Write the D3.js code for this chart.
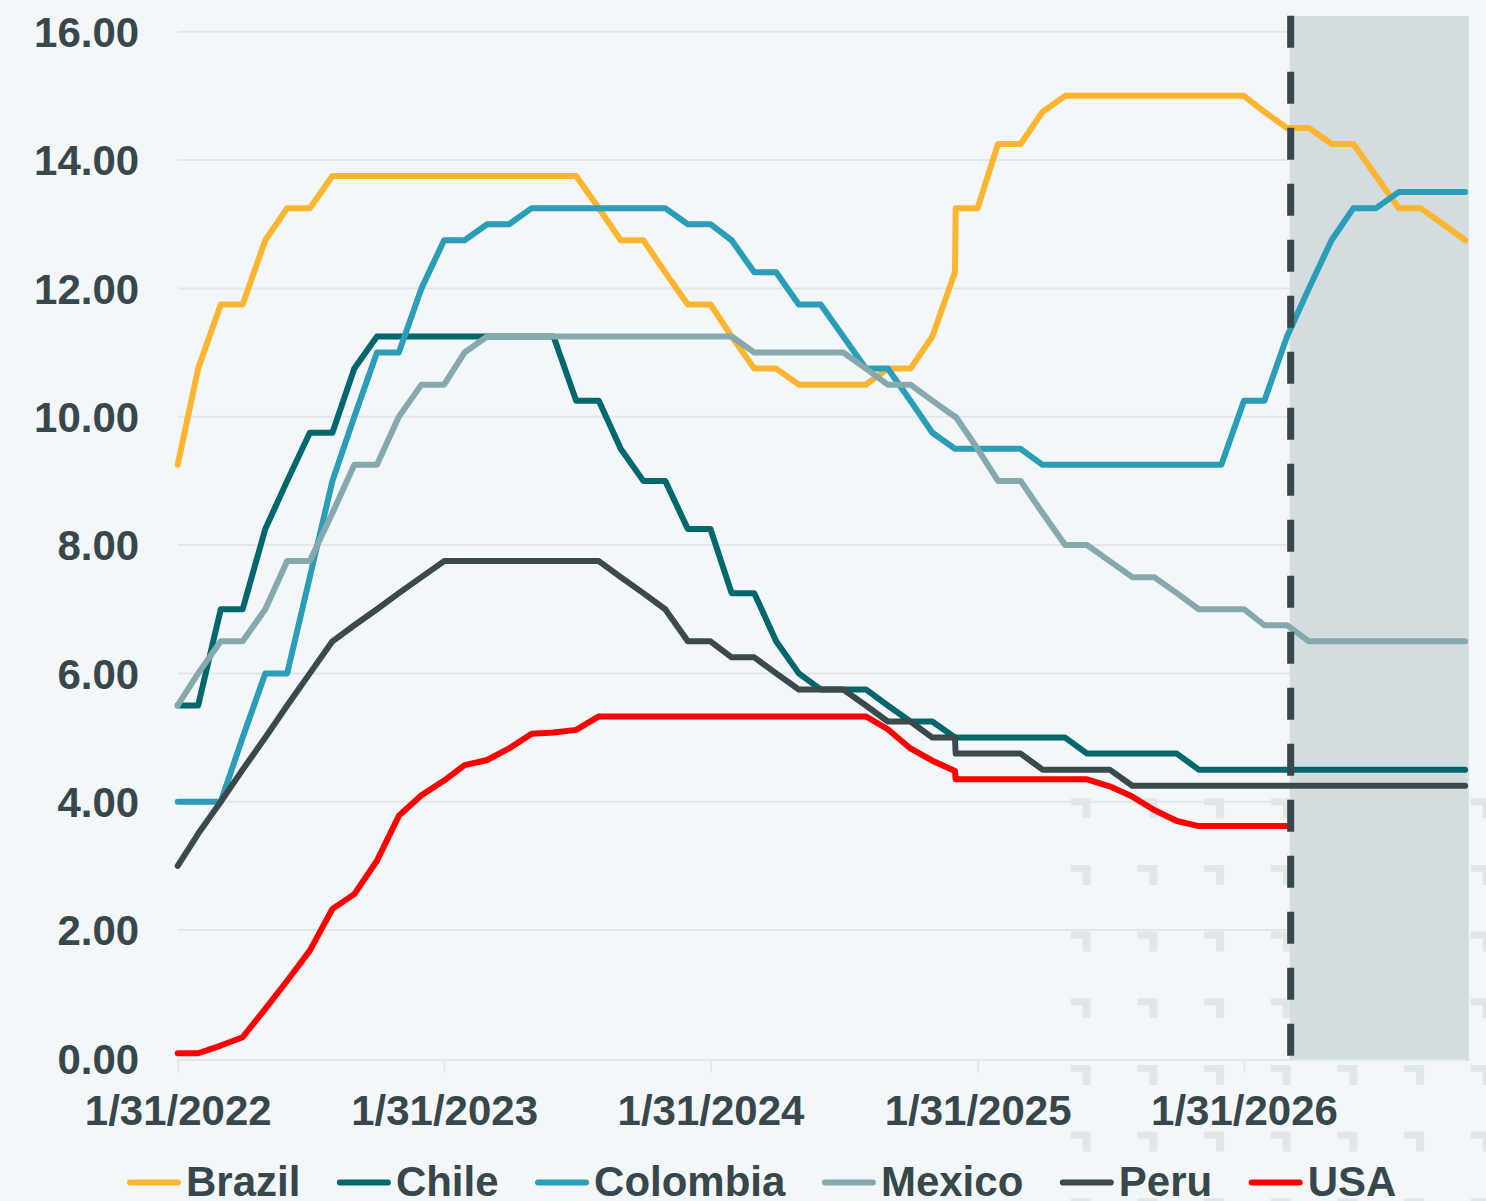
<!DOCTYPE html>
<html>
<head>
<meta charset="utf-8">
<script src="https://cdn.jsdelivr.net/npm/d3@7"></script>
<style>
  body { margin: 0; background: #f3f7fa; }
  svg { display: block; font-family: "Liberation Sans", Arial, sans-serif; }
</style>
</head>
<body>
<div id="chart"></div>
<script>
const WIDTH = 1486, HEIGHT = 1201;

// month-end observations (one extra point at the start of 2025)
const dates = [
  "2022-01-31", "2022-02-28", "2022-03-31", "2022-04-30", "2022-05-31", "2022-06-30",
  "2022-07-31", "2022-08-31", "2022-09-30", "2022-10-31", "2022-11-30", "2022-12-31",
  "2023-01-31", "2023-02-28", "2023-03-31", "2023-04-30", "2023-05-31", "2023-06-30",
  "2023-07-31", "2023-08-31", "2023-09-30", "2023-10-31", "2023-11-30", "2023-12-31",
  "2024-01-31", "2024-02-29", "2024-03-31", "2024-04-30", "2024-05-31", "2024-06-30",
  "2024-07-31", "2024-08-31", "2024-09-30", "2024-10-31", "2024-11-30", "2024-12-31",
  "2025-01-01",
  "2025-01-31", "2025-02-28", "2025-03-31", "2025-04-30", "2025-05-31", "2025-06-30",
  "2025-07-31", "2025-08-31", "2025-09-30", "2025-10-31", "2025-11-30", "2025-12-31",
  "2026-01-31", "2026-02-28", "2026-03-31", "2026-04-30", "2026-05-31", "2026-06-30",
  "2026-07-31", "2026-08-31", "2026-09-30", "2026-10-31", "2026-11-30"
];

const brazil = [
  9.25, 10.75, 11.75, 11.75, 12.75, 13.25, 13.25, 13.75, 13.75, 13.75, 13.75, 13.75,
  13.75, 13.75, 13.75, 13.75, 13.75, 13.75, 13.75, 13.25, 12.75, 12.75, 12.25, 11.75,
  11.75, 11.25, 10.75, 10.75, 10.5, 10.5, 10.5, 10.5, 10.75, 10.75, 11.25, 12.25,
  13.25,
  13.25, 14.25, 14.25, 14.75, 15.0, 15.0, 15.0, 15.0, 15.0, 15.0, 15.0, 15.0,
  15.0, 14.75, 14.5, 14.5, 14.25, 14.25, 13.75, 13.25, 13.25, 13.0, 12.75
];
const chile = [
  5.5, 5.5, 7.0, 7.0, 8.25, 9.0, 9.75, 9.75, 10.75, 11.25, 11.25, 11.25,
  11.25, 11.25, 11.25, 11.25, 11.25, 11.25, 10.25, 10.25, 9.5, 9.0, 9.0, 8.25,
  8.25, 7.25, 7.25, 6.5, 6.0, 5.75, 5.75, 5.75, 5.5, 5.25, 5.25, 5.0,
  5.0,
  5.0, 5.0, 5.0, 5.0, 5.0, 4.75, 4.75, 4.75, 4.75, 4.75, 4.5, 4.5,
  4.5, 4.5, 4.5, 4.5, 4.5, 4.5, 4.5, 4.5, 4.5, 4.5, 4.5
];
const colombia = [
  4.0, 4.0, 4.0, 5.0, 6.0, 6.0, 7.5, 9.0, 10.0, 11.0, 11.0, 12.0,
  12.75, 12.75, 13.0, 13.0, 13.25, 13.25, 13.25, 13.25, 13.25, 13.25, 13.25, 13.0,
  13.0, 12.75, 12.25, 12.25, 11.75, 11.75, 11.25, 10.75, 10.75, 10.25, 9.75, 9.5,
  9.5,
  9.5, 9.5, 9.5, 9.25, 9.25, 9.25, 9.25, 9.25, 9.25, 9.25, 9.25, 9.25,
  10.25, 10.25, 11.25, 12.0, 12.75, 13.25, 13.25, 13.5, 13.5, 13.5, 13.5
];
const mexico = [
  5.5, 6.0, 6.5, 6.5, 7.0, 7.75, 7.75, 8.5, 9.25, 9.25, 10.0, 10.5,
  10.5, 11.0, 11.25, 11.25, 11.25, 11.25, 11.25, 11.25, 11.25, 11.25, 11.25, 11.25,
  11.25, 11.25, 11.0, 11.0, 11.0, 11.0, 11.0, 10.75, 10.5, 10.5, 10.25, 10.0,
  10.0,
  9.5, 9.0, 9.0, 8.5, 8.0, 8.0, 7.75, 7.5, 7.5, 7.25, 7.0, 7.0,
  7.0, 6.75, 6.75, 6.5, 6.5, 6.5, 6.5, 6.5, 6.5, 6.5, 6.5
];
const peru = [
  3.0, 3.5, 4.0, 4.5, 5.0, 5.5, 6.0, 6.5, 6.75, 7.0, 7.25, 7.5,
  7.75, 7.75, 7.75, 7.75, 7.75, 7.75, 7.75, 7.75, 7.5, 7.25, 7.0, 6.5,
  6.5, 6.25, 6.25, 6.0, 5.75, 5.75, 5.75, 5.5, 5.25, 5.25, 5.0, 5.0,
  4.75,
  4.75, 4.75, 4.75, 4.5, 4.5, 4.5, 4.5, 4.25, 4.25, 4.25, 4.25, 4.25,
  4.25, 4.25, 4.25, 4.25, 4.25, 4.25, 4.25, 4.25, 4.25, 4.25, 4.25
];
const usa = [
  0.08, 0.08, 0.20, 0.33, 0.77, 1.21, 1.68, 2.33, 2.56, 3.08, 3.78, 4.10,
  4.33, 4.57, 4.65, 4.83, 5.06, 5.08, 5.12, 5.33, 5.33, 5.33, 5.33, 5.33,
  5.33, 5.33, 5.33, 5.33, 5.33, 5.33, 5.33, 5.33, 5.13, 4.83, 4.64, 4.48,
  4.35,
  4.35, 4.35, 4.35, 4.35, 4.35, 4.35, 4.24, 4.08, 3.87, 3.70, 3.62, 3.62,
  3.62, 3.62, 3.62
];

const countries = ["Brazil", "Chile", "Colombia", "Mexico", "Peru", "USA"];
const seriesValues = [brazil, chile, colombia, mexico, peru, usa];
const colors = ["#fdb52f", "#00686c", "#2a9db9", "#86a8af", "#39494c", "#ff0000"];

const yTicks = [0, 2, 4, 6, 8, 10, 12, 14, 16];
const xTicks = ["2022-01-31", "2023-01-31", "2024-01-31", "2025-01-31", "2026-01-31"];
const forecastStart = "2026-04-05";
const forecastEnd = "2026-12-05";

const parseDate = d3.timeParse("%Y-%m-%d");
const fmtDate = d3.timeFormat("%-m/%-d/%Y");
const fmtVal = d3.format(".2f");

const textColor = "#37474b";
const gridColor = "#e1e7ea";
const fontSize = "42px";

let svg = d3.select("#chart")
    .append("svg")
    .attr("width", WIDTH)
    .attr("height", HEIGHT);

svg.append("rect")
    .attr("width", WIDTH)
    .attr("height", HEIGHT)
    .attr("fill", "#f3f7fa");

let x = d3.scaleTime()
    .domain([parseDate("2022-01-31"), parseDate("2026-11-30")])
    .range([177.7, 1465.1]);

let y = d3.scaleLinear()
    .domain([0, 16])
    .range([1058.4, 31.7]);

// faint tiled mark pattern in the lower right of the source image
let defs = svg.append("defs");
let pat = defs.append("pattern")
    .attr("id", "marks")
    .attr("patternUnits", "userSpaceOnUse")
    .attr("x", 1070.7)
    .attr("y", 798.3)
    .attr("width", 66.67)
    .attr("height", 66.67);
pat.append("path")
    .attr("d", "M0,0H20V20H12V7H0Z")
    .attr("fill", "#dfe7e9");
svg.append("rect")
    .attr("x", 1065)
    .attr("y", 795)
    .attr("width", WIDTH - 1065)
    .attr("height", HEIGHT - 795)
    .attr("fill", "url(#marks)");

// gridlines
svg.append("g")
    .selectAll("line")
    .data(yTicks.filter(d => d > 0))
    .enter().append("line")
    .attr("x1", x.range()[0])
    .attr("x2", x.range()[1] + 1.5)
    .attr("y1", d => y(d))
    .attr("y2", d => y(d))
    .attr("stroke", gridColor)
    .attr("stroke-width", 2);

// forecast shading
svg.append("rect")
    .attr("x", x(parseDate(forecastStart)) - 1)
    .attr("y", 16)
    .attr("width", x(parseDate(forecastEnd)) - x(parseDate(forecastStart)) + 1)
    .attr("height", y(0) + 2.5 - 16)
    .attr("fill", "#d3dcde");

// x axis
let xAxis = svg.append("g")
    .attr("transform", `translate(0,${y(0) + 1})`)
    .call(d3.axisBottom(x)
        .tickValues(xTicks.map(parseDate))
        .tickFormat(fmtDate)
        .tickSizeInner(13)
        .tickSizeOuter(0)
        .tickPadding(23));
xAxis.select(".domain").attr("stroke", gridColor).attr("stroke-width", 2);
xAxis.selectAll(".tick line").attr("stroke", gridColor).attr("stroke-width", 2);
xAxis.selectAll(".tick text")
    .attr("fill", textColor)
    .style("font-size", fontSize)
    .style("font-weight", "bold");

// y axis
let yAxis = svg.append("g")
    .attr("transform", `translate(${x.range()[0]},0)`)
    .call(d3.axisLeft(y)
        .tickValues(yTicks)
        .tickFormat(fmtVal)
        .tickSize(0)
        .tickPadding(38.5));
yAxis.select(".domain").remove();
yAxis.selectAll(".tick text")
    .attr("fill", textColor)
    .attr("dy", "0.35em")
    .style("font-size", fontSize)
    .style("font-weight", "bold");

// series lines
let line = d3.line()
    .x(d => x(d.date))
    .y(d => y(d.value));

countries.forEach(function (name, i) {
    let pts = seriesValues[i].map((v, j) => ({date: parseDate(dates[j]), value: v}));
    svg.append("path")
        .datum(pts)
        .attr("class", "series")
        .attr("fill", "none")
        .attr("stroke", colors[i])
        .attr("stroke-width", 6)
        .attr("stroke-linejoin", "round")
        .attr("stroke-linecap", "round")
        .attr("d", line);
});

// forecast divider
let fx = x(parseDate(forecastStart));
svg.append("line")
    .attr("x1", fx)
    .attr("x2", fx)
    .attr("y1", 15.7)
    .attr("y2", y(0))
    .attr("stroke", textColor)
    .attr("stroke-width", 7)
    .attr("stroke-dasharray", "32,24");

// legend
let legend = svg.append("g").attr("class", "legend");
let lx = 127;
countries.forEach(function (name, i) {
    let item = legend.append("g").attr("transform", `translate(${lx},0)`);
    item.append("line")
        .attr("x1", 3)
        .attr("x2", 51)
        .attr("y1", 1182.5)
        .attr("y2", 1182.5)
        .attr("stroke", colors[i])
        .attr("stroke-width", 6)
        .attr("stroke-linecap", "round");
    let t = item.append("text")
        .attr("x", 59)
        .attr("y", 1196)
        .attr("fill", textColor)
        .style("font-size", fontSize)
        .style("font-weight", "bold")
        .text(name);
    lx += 59 + t.node().getComputedTextLength() + 36.5;
});
</script>
</body>
</html>
